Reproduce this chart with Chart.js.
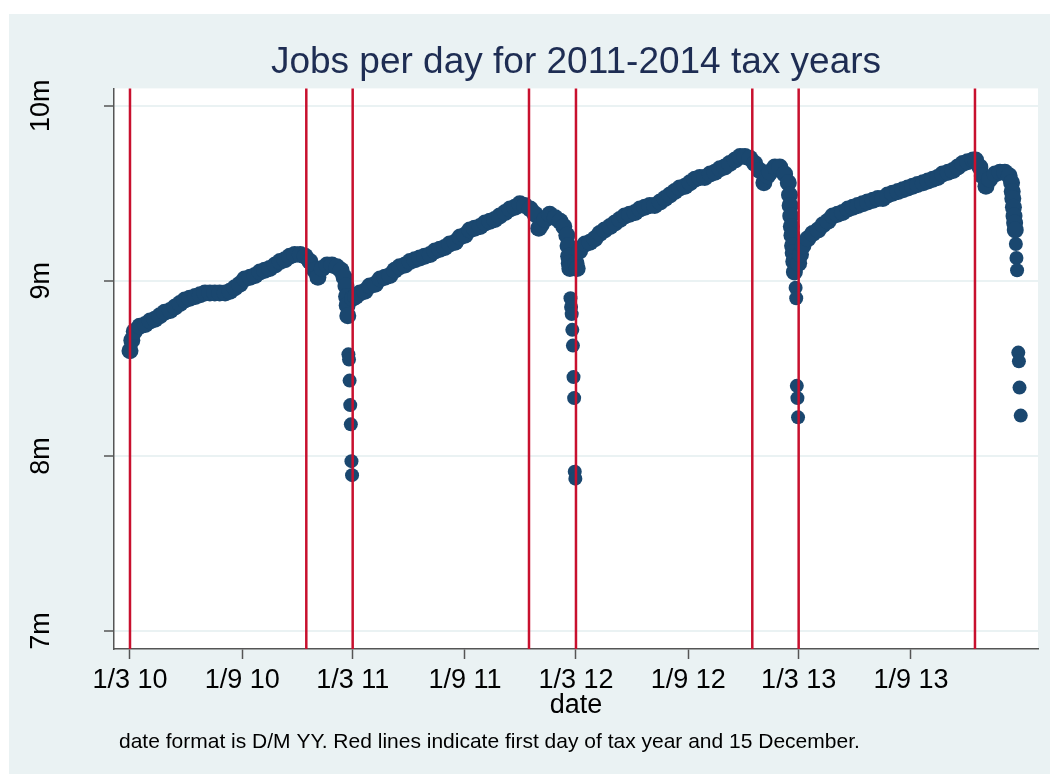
<!DOCTYPE html>
<html>
<head>
<meta charset="utf-8">
<title>Jobs per day for 2011-2014 tax years</title>
<script src="https://cdn.jsdelivr.net/npm/chart.js@4.4.1/dist/chart.umd.min.js"></script>
<style>
  html, body { margin: 0; padding: 0; background: #fff; }
  #wrap { width: 1050px; height: 774px; }
</style>
</head>
<body>
<div id="wrap"><canvas id="jobsChart" width="1050" height="774"></canvas></div>
<script>
// days counted from 1 March 2010, jobs in millions
const year1Days = [0, 3, 7, 16, 25, 33, 41, 49, 57, 66, 74, 82, 90, 98, 107, 115, 123, 131, 139, 147,
  156, 164, 172, 180, 188, 197, 205, 213, 221, 229, 238, 246, 254, 262, 270, 279, 287, 295, 303, 308,
  315, 323, 331, 339, 346, 351, 354, 355, 356, 357];
const year1Jobs = [8.60, 8.66, 8.71, 8.74, 8.75, 8.77, 8.78, 8.80, 8.82, 8.83, 8.85, 8.87, 8.89, 8.90, 8.91, 8.92, 8.93, 8.93, 8.93, 8.93,
  8.93, 8.94, 8.96, 8.98, 9.01, 9.02, 9.03, 9.05, 9.06, 9.07, 9.09, 9.11, 9.12, 9.14, 9.15, 9.15, 9.14, 9.11, 9.06, 9.02,
  9.07, 9.09, 9.09, 9.08, 9.06, 9.02, 8.97, 8.91, 8.86, 8.80];
const year1DipDays = [358, 359, 360, 361, 362, 363, 364];
const year1DipJobs = [8.58, 8.55, 8.43, 8.29, 8.18, 7.97, 7.89];

const year2Days = [365, 370, 377, 385, 393, 402, 410, 418, 426, 434, 442, 451, 459, 467, 475, 483, 492, 500, 508, 516,
  524, 533, 541, 549, 557, 565, 574, 582, 590, 598, 606, 615, 623, 631, 639, 647, 656, 664, 670, 674,
  680, 688, 697, 705, 711, 716, 718, 719, 720, 721];
const year2Jobs = [8.90, 8.91, 8.93, 8.94, 8.97, 8.98, 9.01, 9.02, 9.03, 9.06, 9.08, 9.09, 9.11, 9.12, 9.13, 9.14, 9.15, 9.17, 9.18, 9.19,
  9.21, 9.22, 9.25, 9.26, 9.29, 9.30, 9.31, 9.33, 9.34, 9.35, 9.37, 9.39, 9.41, 9.42, 9.44, 9.43, 9.41, 9.38, 9.30, 9.32,
  9.35, 9.38, 9.36, 9.34, 9.31, 9.26, 9.20, 9.14, 9.10, 9.07];
const year2DipDays = [722, 723, 724, 725, 726, 727, 728, 729, 730];
const year2DipJobs = [8.90, 8.85, 8.81, 8.72, 8.63, 8.45, 8.33, 7.91, 7.87];

const year3Days = [731, 733, 737, 746, 754, 762, 770, 778, 787, 795, 803, 811, 819, 828, 836, 844, 852, 860, 869, 877,
  885, 893, 901, 910, 918, 926, 934, 942, 951, 959, 967, 975, 983, 992, 1000, 1008, 1016, 1024, 1032, 1039,
  1045, 1049, 1057, 1065, 1073, 1079, 1081, 1082, 1083, 1084, 1085, 1086, 1087, 1088, 1089];
const year3Jobs = [9.10, 9.07, 9.17, 9.21, 9.22, 9.24, 9.27, 9.29, 9.31, 9.33, 9.35, 9.37, 9.38, 9.39, 9.41, 9.42, 9.43, 9.43, 9.45, 9.47,
  9.49, 9.51, 9.53, 9.54, 9.56, 9.58, 9.59, 9.59, 9.61, 9.62, 9.64, 9.65, 9.67, 9.69, 9.71, 9.71, 9.70, 9.67, 9.63, 9.56,
  9.60, 9.62, 9.65, 9.65, 9.61, 9.56, 9.49, 9.43, 9.37, 9.31, 9.26, 9.20, 9.16, 9.11, 9.05];
const year3DipDays = [1091, 1092, 1093, 1094, 1095];
const year3DipJobs = [8.96, 8.90, 8.40, 8.33, 8.22];

const year4Days = [1096, 1099, 1103, 1111, 1119, 1128, 1136, 1144, 1152, 1160, 1168, 1177, 1185, 1193, 1201, 1209, 1218, 1226, 1234, 1242,
  1250, 1259, 1267, 1275, 1283, 1291, 1300, 1308, 1316, 1324, 1332, 1341, 1349, 1357, 1365, 1373, 1382, 1386, 1393, 1397,
  1403, 1409, 1418, 1426, 1434, 1441, 1445, 1446, 1447, 1448, 1449, 1450, 1451];
const year4Jobs = [9.10, 9.15, 9.20, 9.24, 9.27, 9.29, 9.32, 9.34, 9.37, 9.38, 9.39, 9.41, 9.42, 9.43, 9.44, 9.45, 9.46, 9.47, 9.47, 9.49,
  9.50, 9.51, 9.52, 9.53, 9.54, 9.55, 9.56, 9.57, 9.58, 9.59, 9.61, 9.62, 9.63, 9.65, 9.67, 9.68, 9.69, 9.69, 9.65, 9.60,
  9.54, 9.58, 9.61, 9.62, 9.62, 9.60, 9.56, 9.51, 9.47, 9.42, 9.37, 9.33, 9.29];
const year4DipDays = [1452, 1453, 1454, 1456, 1457, 1458, 1460];
const year4DipJobs = [9.21, 9.13, 9.06, 8.59, 8.54, 8.39, 8.23];

// x axis ticks (1 Mar / 1 Sep) and red marker lines (1 Mar / 15 Dec)
const tickDays = [0, 184, 365, 549, 731, 915, 1096, 1280];
const tickLabels = ['1/3 10', '1/9 10', '1/3 11', '1/9 11', '1/3 12', '1/9 12', '1/3 13', '1/9 13'];
const markerDays = [0, 289, 365, 654, 731, 1020, 1096, 1385];

const yTicks = [7, 8, 9, 10];
const yTickLabels = ['7m', '8m', '9m', '10m'];

const FONT = 'Arial, "Liberation Sans", sans-serif';
const NAVY = '#1a476f';
const BG = '#eaf2f3';

function toPoints(pairs) {
  const out = [];
  pairs.forEach(([days, jobs]) => {
    days.forEach((d, i) => out.push({ x: d, y: jobs[i] }));
  });
  return out;
}

const bandPoints = toPoints([[year1Days, year1Jobs], [year2Days, year2Jobs], [year3Days, year3Jobs], [year4Days, year4Jobs]]);
const dipPoints = toPoints([[year1DipDays, year1DipJobs], [year2DipDays, year2DipJobs],
  [year3DipDays, year3DipJobs], [year4DipDays, year4DipJobs]]);

const backdrop = {
  id: 'backdrop',
  beforeDraw(chart) {
    const { ctx, chartArea: a } = chart;
    ctx.save();
    ctx.fillStyle = '#ffffff';
    ctx.fillRect(0, 0, chart.width, chart.height);
    ctx.fillStyle = BG;
    ctx.fillRect(9, 14, chart.width - 9, chart.height - 14);
    ctx.fillStyle = '#ffffff';
    ctx.fillRect(a.left, a.top, a.right - a.left, a.bottom - a.top);
    ctx.restore();
  }
};

const markerLines = {
  id: 'markerLines',
  afterDatasetsDraw(chart) {
    const { ctx, chartArea: a, scales: { x } } = chart;
    ctx.save();
    ctx.strokeStyle = '#c8102e';
    ctx.lineWidth = 2.5;
    markerDays.forEach(d => {
      const px = x.getPixelForValue(d);
      ctx.beginPath();
      ctx.moveTo(px, a.top);
      ctx.lineTo(px, a.bottom);
      ctx.stroke();
    });
    ctx.restore();
  }
};

const extraText = {
  id: 'extraText',
  afterDraw(chart) {
    const { ctx, scales: { y } } = chart;
    ctx.save();
    ctx.fillStyle = '#000';
    ctx.font = '27px ' + FONT;
    ctx.textAlign = 'center';
    ctx.textBaseline = 'middle';
    yTicks.forEach((v, i) => {
      ctx.save();
      ctx.translate(42, y.getPixelForValue(v));
      ctx.rotate(-Math.PI / 2);
      ctx.fillText(yTickLabels[i], 0, 0);
      ctx.restore();
    });
    ctx.font = '21px ' + FONT;
    ctx.textAlign = 'left';
    ctx.textBaseline = 'alphabetic';
    ctx.fillText('date format is D/M YY. Red lines indicate first day of tax year and 15 December.', 119, 748);
    ctx.restore();
  }
};

new Chart(document.getElementById('jobsChart'), {
  type: 'scatter',
  data: {
    datasets: [
      { data: bandPoints, backgroundColor: NAVY, borderWidth: 0, pointRadius: 8.5, pointHoverRadius: 8.5 },
      { data: dipPoints, backgroundColor: NAVY, borderWidth: 0, pointRadius: 7, pointHoverRadius: 7 }
    ]
  },
  options: {
    responsive: false,
    animation: false,
    events: [],
    layout: { padding: { left: 0, right: 12, top: 0, bottom: 52 } },
    plugins: {
      legend: { display: false },
      tooltip: { enabled: false },
      title: {
        display: true,
        fullSize: false,
        text: 'Jobs per day for 2011-2014 tax years',
        color: '#1e2d53',
        font: { family: FONT, size: 37, weight: 'normal' },
        padding: { top: 41, bottom: 3 }
      }
    },
    scales: {
      x: {
        type: 'linear',
        min: -26.2,
        max: 1488.3,
        afterBuildTicks: s => { s.ticks = tickDays.map(v => ({ value: v })); },
        afterFit: s => { s.height = 73; },
        ticks: {
          color: '#000',
          padding: 5,
          maxRotation: 0,
          autoSkip: false,
          font: { family: FONT, size: 27 },
          callback: v => tickLabels[tickDays.indexOf(v)]
        },
        grid: { drawOnChartArea: false, tickLength: 10, tickColor: '#555', tickWidth: 1.5 },
        border: { color: '#555', width: 1.5 },
        title: {
          display: true,
          text: 'date',
          color: '#000',
          padding: 0,
          font: { family: FONT, size: 27 }
        }
      },
      y: {
        type: 'linear',
        min: 6.897,
        max: 10.099,
        afterBuildTicks: s => { s.ticks = yTicks.map(v => ({ value: v })); },
        afterFit: s => { s.width = 114; },
        ticks: { display: false },
        grid: { color: BG, lineWidth: 2, tickLength: 10, tickColor: '#555', tickWidth: 1.5 },
        border: { color: '#555', width: 1.5 }
      }
    }
  },
  plugins: [backdrop, markerLines, extraText]
});
</script>
</body>
</html>
